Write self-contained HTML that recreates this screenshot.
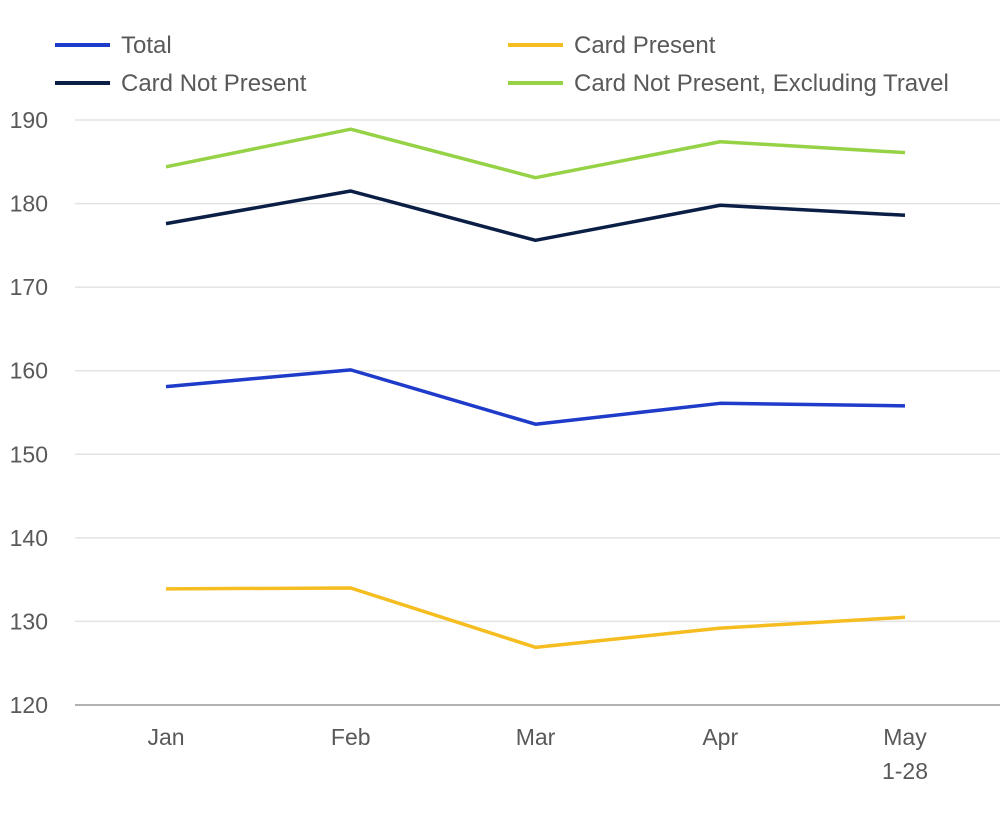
<!DOCTYPE html>
<html><head><meta charset="utf-8"><style>
html,body{margin:0;padding:0;background:#fff;}
svg{display:block;font-family:"Liberation Sans",sans-serif;}
</style></head><body>
<svg id="chart" width="1000" height="814" viewBox="0 0 1000 814"></svg>
<script>
const categories = ["Jan","Feb","Mar","Apr","May"];
const categorySub = ["","","","","1-28"];
const yTicks = [120,130,140,150,160,170,180,190];
const seriesNames = ["Total","Card Present","Card Not Present","Card Not Present, Excluding Travel"];
const totalValues = [158.1,160.1,153.6,156.1,155.8];
const cardPresentValues = [133.9,134.0,126.9,129.2,130.5];
const cardNotPresentValues = [177.6,181.5,175.6,179.8,178.6];
const cnpExTravelValues = [184.4,188.9,183.1,187.4,186.1];

const svg = document.getElementById('chart');
const NS = "http://www.w3.org/2000/svg";
const colors = ["#1f3bc9","#f5bd1f","#0b1e45","#96d245"];
const allSeries = [totalValues,cardPresentValues,cardNotPresentValues,cnpExTravelValues];
const y = v => 705 - (v-120)*(585/70);
const x = i => 166 + i*184.75;
function el(tag, attrs){const e=document.createElementNS(NS,tag);for(const k in attrs)e.setAttribute(k,attrs[k]);svg.appendChild(e);return e;}

yTicks.forEach(t=>{
  const g = el('line',{x1:75,x2:1000,y1:y(t),y2:y(t),stroke:t===120?'#999':'#e3e3e3','stroke-width':1.5});
  
  
  const tx = el('text',{x:48,y:y(t)+8,'text-anchor':'end','font-size':23,fill:'#595959'});
  tx.textContent = t;
  
  
});
categories.forEach((c,i)=>{
  const tx = el('text',{x:x(i),y:745,'text-anchor':'middle','font-size':23,fill:'#595959'});
  tx.textContent = c;
  
  
  if(categorySub[i]){
    const t2 = el('text',{x:x(i),y:779,'text-anchor':'middle','font-size':23,fill:'#595959'});
    t2.textContent = categorySub[i];
    
    
  }
});
allSeries.forEach((vals,s)=>{
  const p = el('polyline',{points:vals.map((v,i)=>x(i)+','+y(v)).join(' '),fill:'none',stroke:colors[s],'stroke-width':3.5,'stroke-linejoin':'round'});
  
  
});
const legPos = [[55,45],[508,45],[55,83],[508,83]];
seriesNames.forEach((n,s)=>{
  const [lx,ly] = legPos[s];
  const l = el('line',{x1:lx,x2:lx+55,y1:ly,y2:ly,stroke:colors[s],'stroke-width':4});
  
  
  const t = el('text',{x:lx+66,y:ly+8,'font-size':24,fill:'#595959'});
  t.textContent = n;
  
  
});
</script>
</body></html>
